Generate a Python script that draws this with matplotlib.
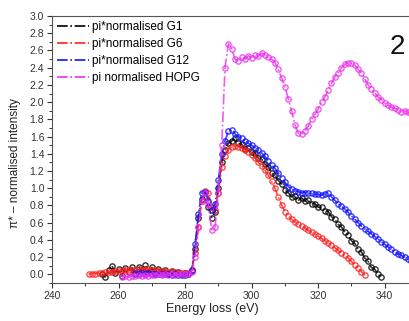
import matplotlib
matplotlib.use("Agg")
import matplotlib.pyplot as plt
from matplotlib.lines import Line2D
from matplotlib.ticker import MultipleLocator
import numpy as np

plt.rcParams['font.family'] = ['Liberation Sans', 'DejaVu Sans']

# Energy loss spectra (eV vs normalised intensity)
e_g1 = np.arange(255, 340)
g1 = [0.00, -0.03, 0.05, 0.10, 0.02, 0.06, -0.02, 0.07, 0.03, 0.08,
      0.01, 0.09, 0.04, 0.11, 0.03, 0.08, 0.02, 0.06, 0.03, 0.05,
      0.01, 0.04, 0.02, 0.03, 0.01, 0.02, 0.01, 0.05, 0.30, 0.65,
      0.88, 0.90, 0.78, 0.66, 0.72, 1.00, 1.30, 1.45, 1.52, 1.55,
      1.58, 1.52, 1.51, 1.46, 1.47, 1.42, 1.41, 1.35, 1.34, 1.28,
      1.25, 1.18, 1.15, 1.09, 1.05, 0.98, 0.95, 0.90, 0.91, 0.86,
      0.89, 0.85, 0.86, 0.82, 0.82, 0.78, 0.78, 0.74, 0.73, 0.67,
      0.64, 0.58, 0.55, 0.49, 0.46, 0.39, 0.36, 0.29, 0.26, 0.19,
      0.15, 0.08, 0.06, 0.00, -0.03]

e_g6 = np.arange(251, 335)
g6 = [0.00, 0.01, 0.01, 0.02, 0.02, 0.03, 0.03, 0.03, 0.04, 0.04,
      0.04, 0.05, 0.05, 0.05, 0.05, 0.06, 0.05, 0.06, 0.05, 0.05,
      0.05, 0.04, 0.04, 0.04, 0.03, 0.03, 0.03, 0.02, 0.02, 0.02,
      0.02, 0.04, 0.25, 0.55, 0.85, 0.97, 0.95, 0.78, 0.75, 0.95,
      1.25, 1.38, 1.45, 1.48, 1.49, 1.48, 1.47, 1.45, 1.42, 1.39,
      1.35, 1.30, 1.26, 1.21, 1.15, 1.08, 1.00, 0.90, 0.81, 0.73,
      0.68, 0.64, 0.61, 0.58, 0.56, 0.54, 0.51, 0.49, 0.47, 0.44,
      0.42, 0.39, 0.37, 0.34, 0.31, 0.28, 0.25, 0.22, 0.19, 0.15,
      0.11, 0.07, 0.03, -0.01]

e_g12 = np.arange(265, 350)
g12 = [0.02, 0.01, 0.02, 0.01, 0.02, 0.01, 0.01, 0.00, 0.01, 0.00,
       0.00, -0.01, 0.00, -0.01, -0.01, -0.01, 0.00, 0.05, 0.35, 0.70,
       0.95, 0.96, 0.85, 0.75, 0.82, 1.10, 1.40, 1.55, 1.66, 1.68,
       1.63, 1.60, 1.58, 1.55, 1.52, 1.50, 1.47, 1.44, 1.41, 1.37,
       1.32, 1.27, 1.23, 1.18, 1.12, 1.07, 1.02, 0.99, 0.97, 0.96,
       0.95, 0.95, 0.94, 0.94, 0.93, 0.93, 0.92, 0.93, 0.95, 0.90,
       0.86, 0.82, 0.79, 0.76, 0.72, 0.68, 0.64, 0.60, 0.56, 0.53,
       0.50, 0.47, 0.44, 0.41, 0.38, 0.35, 0.32, 0.29, 0.26, 0.24,
       0.22, 0.20, 0.18, 0.16, 0.15]

e_hopg = np.arange(261, 350)
hopg = [-0.03, -0.02, -0.03, -0.02, -0.02, -0.01, -0.02, -0.01, -0.02, -0.01,
        -0.01, 0.00, -0.01, 0.00, -0.01, 0.00, -0.01, 0.00, 0.00, 0.01,
        0.00, 0.03, 0.20, 0.55, 0.85, 0.95, 0.80, 0.52, 0.55, 0.95,
        1.50, 2.40, 2.68, 2.62, 2.50, 2.48, 2.52, 2.50, 2.54, 2.51,
        2.55, 2.53, 2.57, 2.55, 2.52, 2.50, 2.46, 2.38, 2.28, 2.18,
        2.04, 1.90, 1.74, 1.64, 1.63, 1.67, 1.72, 1.80, 1.86, 1.92,
        2.00, 2.06, 2.14, 2.22, 2.29, 2.34, 2.40, 2.44, 2.46, 2.45,
        2.43, 2.38, 2.34, 2.27, 2.20, 2.15, 2.11, 2.06, 2.03, 1.99,
        1.97, 1.94, 1.93, 1.91, 1.89, 1.90, 1.88, 1.87, 1.88]

series = [
    ("pi*normalised G1", e_g1, g1, "#000000"),
    ("pi*normalised G6", e_g6, g6, "#ff2020"),
    ("pi*normalised G12", e_g12, g12, "#1010ff"),
    ("pi normalised HOPG", e_hopg, hopg, "#ee30ee"),
]

W, H = 409, 321
fig = plt.figure(figsize=(W / 100, H / 100), dpi=100)
left, right, top, bottom = 52, 418, 16, 283
ax = fig.add_axes([left / W, 1 - bottom / H, (right - left) / W, (bottom - top) / H])

for label, x, y, c in series:
    ax.plot(x, y, linestyle='-.', color=c, linewidth=1.2,
            marker='o', markersize=3.8, markerfacecolor='none',
            markeredgecolor=c, markeredgewidth=1.0, alpha=0.8)

ax.set_xlim(240, 350)
ax.set_ylim(-0.1, 3.0)
ax.xaxis.set_major_locator(MultipleLocator(20))
ax.xaxis.set_minor_locator(MultipleLocator(10))
ax.yaxis.set_major_locator(MultipleLocator(0.2))
ax.yaxis.set_minor_locator(MultipleLocator(0.1))
ax.yaxis.set_major_formatter(plt.FuncFormatter(lambda v, p: f"{v:.1f}"))

ax.tick_params(which='major', direction='out', length=3.6, width=0.8,
               labelsize=7.5, colors='#333333', pad=2)
ax.tick_params(which='minor', direction='out', length=2.2, width=0.7,
               colors='#333333')
ax.tick_params(top=False, right=False)
for s in ax.spines.values():
    s.set_color('#555555')
    s.set_linewidth(0.8)

ax.set_xlabel("Energy loss (eV)", fontsize=9, color='#222222')
ax.set_ylabel("π* – normalised intensity", fontsize=8.5, color='#222222')
ax.xaxis.set_label_coords(0.437, -0.075)
ax.yaxis.set_label_coords(-0.085, 0.45)

handles = [Line2D([0], [0], color=c, linestyle='-.', linewidth=1.2)
           for _, _, _, c in series]
ax.legend(handles, [s[0] for s in series], loc='upper left',
          bbox_to_anchor=(57 / W, 1 - 21 / H), bbox_transform=fig.transFigure,
          frameon=False, fontsize=8.5, handlelength=2.7, handletextpad=0.3,
          labelspacing=0.42, borderpad=0, borderaxespad=0)

fig.text(390 / W, 1 - 47 / H, "2", fontsize=20, ha='left', va='center',
         color='#111111')

fig.savefig("out.png", dpi=100)
